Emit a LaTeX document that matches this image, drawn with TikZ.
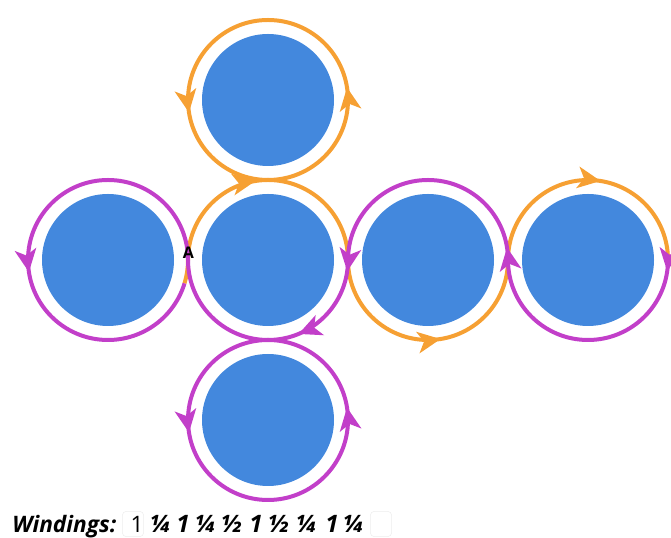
\documentclass[tikz,border=0pt]{standalone}
\usepackage{fontspec}
\setmainfont{Open Sans}
\usetikzlibrary{positioning,arrows.meta,decorations.markings}
\definecolor{diskblue}{HTML}{4388DD}
\definecolor{pathorange}{HTML}{F6A033}
\definecolor{pathmagenta}{HTML}{C23FC9}
\tikzset{
  disk/.style={circle, fill=diskblue, minimum size=99pt, inner sep=0pt},
  ring/.style={line width=3pt, radius=80, decoration={markings}, postaction={decorate}},
  oring/.style={ring, draw=pathorange},
  mring/.style={ring, draw=pathmagenta},
  tipat/.style={decoration={mark=at position #1 with {\arrow{Stealth[length=17pt, width=16pt, inset=4.5pt]}}}},
  wlabel/.style={font=\fontsize{17pt}{20pt}\selectfont\bfseries\itshape, inner sep=0pt, anchor=base},
  wnum/.style={font=\fontsize{18pt}{20pt}\selectfont\bfseries\itshape, inner sep=0pt, anchor=base},
  ghost/.style={draw=black!7, rounded corners=3pt, minimum width=16pt, minimum height=19pt}
}

\begin{document}
\begin{tikzpicture}[x=0.75pt, y=0.75pt]
  \useasboundingbox (0,0) rectangle (671,538);
  % disks
  \node[disk] (top) at (268,438) {};
  \node[disk] (left) at (108,278) {};
  \node[disk] (mid) at (268,278) {};
  \node[disk] (right) at (428,278) {};
  \node[disk] (far) at (588,278) {};
  \node[disk] (bottom) at (268,118) {};
  % orange part of the path
  \draw[oring] (left.center) ++(-17:80) arc[start angle=-17, end angle=0];
  \draw[oring, tipat=0.9] (mid.center) ++(180:80) arc[start angle=180, end angle=90];
  \draw[oring, tipat=0.275, tipat=0.775] (top.center) ++(-90:80) arc[start angle=-90, end angle=270];
  \draw[oring] (mid.center) ++(90:80) arc[start angle=90, end angle=0];
  \draw[oring, tipat=0.55] (right.center) ++(180:80) arc[start angle=180, end angle=360];
  \draw[oring, tipat=0.55] (far.center) ++(180:80) arc[start angle=180, end angle=0];
  % magenta part of the path
  \draw[mring, tipat=0.045] (far.center) ++(0:80) arc[start angle=0, end angle=-180];
  \draw[mring, tipat=0.05] (right.center) ++(0:80) arc[start angle=0, end angle=180];
  \draw[mring, tipat=0.09, tipat=0.75] (mid.center) ++(0:80) arc[start angle=0, end angle=-90];
  \draw[mring, tipat=0.275, tipat=0.775] (bottom.center) ++(90:80) arc[start angle=90, end angle=450];
  \draw[mring] (mid.center) ++(-90:80) arc[start angle=-90, end angle=-180];
  \draw[mring, tipat=0.55] (left.center) ++(0:80) arc[start angle=0, end angle=343];
  \node[font=\fontsize{12pt}{14pt}\selectfont\bfseries, inner sep=0pt] (A) at (188.5,285) {A};
  % windings
  \node[wlabel, anchor=base west] (wl) at (12,5) {Windings:};
  \node[ghost] (g0) at (133,14) {};
  \node[ghost] (g1) at (381,14) {};
  \node[wnum, font=\fontsize{17pt}{20pt}\selectfont] (w0) at (137,5) {1};
  \foreach \wx/\wt [count=\wi] in {161/¼, 183/1, 206/¼, 232/½, 256/1, 279/½, 307/¼, 332/1, 354/¼}
    \node[wnum] (w\wi) at (\wx,5) {\wt};
\end{tikzpicture}
\end{document}
